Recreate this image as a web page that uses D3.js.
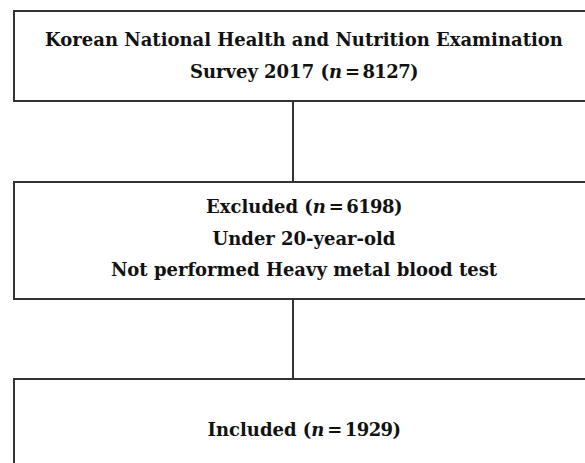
<!DOCTYPE html>
<html>
<head>
<meta charset="utf-8">
<script src="https://cdn.jsdelivr.net/npm/d3@7"></script>
<style>
  html, body { margin: 0; padding: 0; background: #fff; }
  svg { display: block; }
</style>
</head>
<body>
<div id="chart"></div>
<script>
// Flow chart content: each step is a list of lines, each line a list of [text, italic]
const stepNames = ["survey", "excluded", "included"];
const surveyLines = [
  [["Korean National Health and Nutrition Examination", false]],
  [["Survey 2017 (", false], ["n", true], ["\u2009=\u20098127)", false]]
];
const excludedLines = [
  [["Excluded (", false], ["n", true], ["\u2009=\u20096198)", false]],
  [["Under 20-year-old", false]],
  [["Not performed Heavy metal blood test", false]]
];
const includedLines = [
  [["Included (", false], ["n", true], ["\u2009=\u20091929)", false]]
];
const stepLines = [surveyLines, excludedLines, includedLines];

(function() {
  const width = 585;
  const height = 463;

  // box geometry (pixels)
  const boxLeft = 14;
  const boxRight = 596;
  const boxTop = { survey: 11, excluded: 182, included: 379 };
  const boxBottom = { survey: 101, excluded: 299, included: 490 };
  const firstBaseline = { survey: 46, excluded: 213, included: 436 };
  const lineGap = 31.5;
  const textCenter = 304;
  const connectorX = 293;

  const svg = d3.select("#chart")
    .append("svg")
    .attr("width", width)
    .attr("height", height);

  const steps = stepNames.map((name, i) => ({ name, lines: stepLines[i] }));

  // connectors
  const links = d3.pairs(steps);
  svg.append("g")
    .selectAll("line")
    .data(links)
    .enter().append("line")
    .attr("x1", connectorX)
    .attr("x2", connectorX)
    .attr("y1", d => boxBottom[d[0].name])
    .attr("y2", d => boxTop[d[1].name])
    .attr("stroke", "#333")
    .attr("stroke-width", 2);

  // boxes
  svg.append("g")
    .selectAll("rect")
    .data(steps)
    .enter().append("rect")
    .attr("x", boxLeft)
    .attr("y", d => boxTop[d.name])
    .attr("width", boxRight - boxLeft)
    .attr("height", d => boxBottom[d.name] - boxTop[d.name])
    .attr("fill", "none")
    .attr("stroke", "#333")
    .attr("stroke-width", 2);

  const fontFamily = "'DejaVu Serif', 'Liberation Serif', serif";
  let fontSize = 18;

  const texts = svg.append("g")
    .attr("font-family", fontFamily)
    .attr("font-weight", "bold")
    .attr("fill", "#111")
    .attr("text-anchor", "middle");

  steps.forEach(step => {
    step.lines.forEach((parts, li) => {
      const t = texts.append("text")
        .attr("class", "label")
        .attr("x", textCenter)
        .attr("y", firstBaseline[step.name] + li * lineGap);
      parts.forEach(p => {
        const ts = t.append("tspan")
          .attr("font-style", p[1] ? "italic" : "normal")
          .text(p[0]);
        // numbers sit tighter in the reference
        if (/\d{4}\)$/.test(p[0])) ts.attr("letter-spacing", -0.6);
      });
    });
  });

  // fit font size so the longest line matches the reference width (~518px)
  texts.attr("font-size", fontSize);
  const first = texts.select("text.label").node();
  const w = first.getComputedTextLength();
  fontSize = fontSize * 518 / w;
  texts.attr("font-size", fontSize.toFixed(2));
})();
</script>
</body>
</html>
